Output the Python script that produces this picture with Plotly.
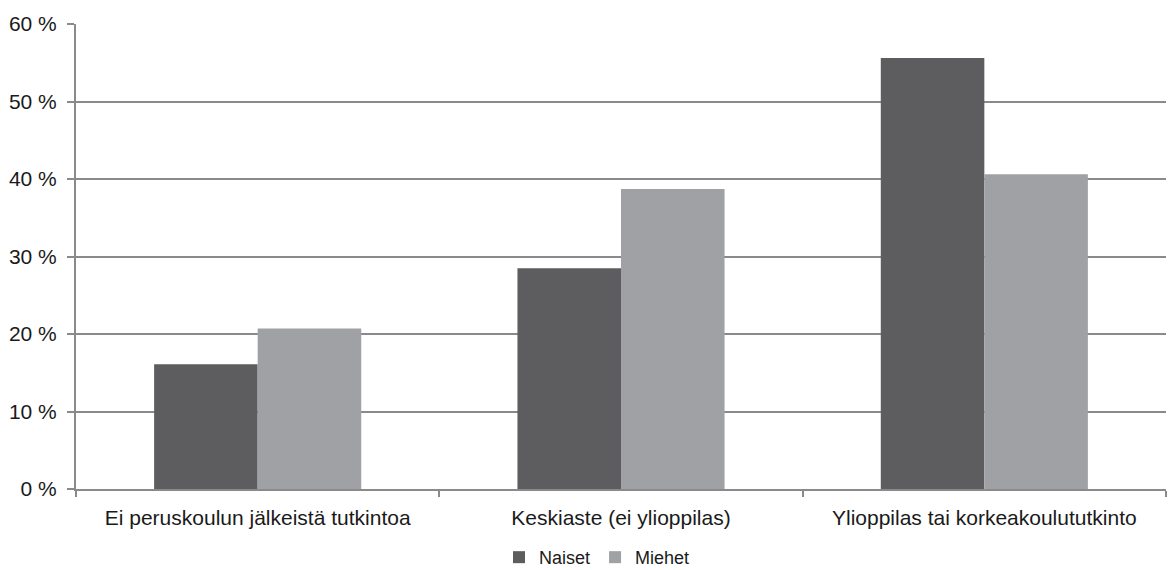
import plotly.graph_objects as go

categories = ['Ei peruskoulun jälkeistä tutkintoa',
              'Keskiaste (ei ylioppilas)',
              'Ylioppilas tai korkeakoulututkinto']
naiset = [16.1, 28.5, 55.6]
miehet = [20.7, 38.7, 40.6]

grid_col = '#8a8a8c'

fig = go.Figure()
fig.add_trace(go.Bar(name='Naiset', x=categories, y=naiset,
                     marker=dict(color='#5d5d5f', line=dict(width=0))))
fig.add_trace(go.Bar(name='Miehet', x=categories, y=miehet,
                     marker=dict(color='#a0a1a4', line=dict(width=0))))

fig.update_layout(
    width=1168, height=570,
    margin=dict(l=76, r=2, t=24, b=81, autoexpand=False),
    paper_bgcolor='white', plot_bgcolor='white',
    barmode='group', bargap=0.43, bargroupgap=0,
    font=dict(family='Liberation Sans, Arial, sans-serif', size=20, color='#1a1a1a'),
    legend=dict(orientation='h', x=0.478, xanchor='center',
                yref='container', y=0.022, yanchor='middle',
                font=dict(size=18), itemwidth=30, tracegroupgap=0),
)
fig.update_xaxes(showline=True, linecolor=grid_col, linewidth=2,
                 ticks='outside', tickson='boundaries', ticklen=6, tickcolor=grid_col,
                 tickwidth=2, showgrid=False, tickfont=dict(size=21),
                 ticklabelstandoff=9)
fig.update_yaxes(range=[0, 60], dtick=10, ticksuffix=' %',
                 showline=True, linecolor=grid_col, linewidth=2,
                 ticks='outside', ticklen=7, tickcolor=grid_col, tickwidth=2,
                 tickfont=dict(size=21), ticklabelstandoff=6,
                 showgrid=True, gridcolor=grid_col, gridwidth=2, zeroline=False)

fig.write_html('out.html', config={'displayModeBar': False},
               post_script="document.body.style.margin='0';")
